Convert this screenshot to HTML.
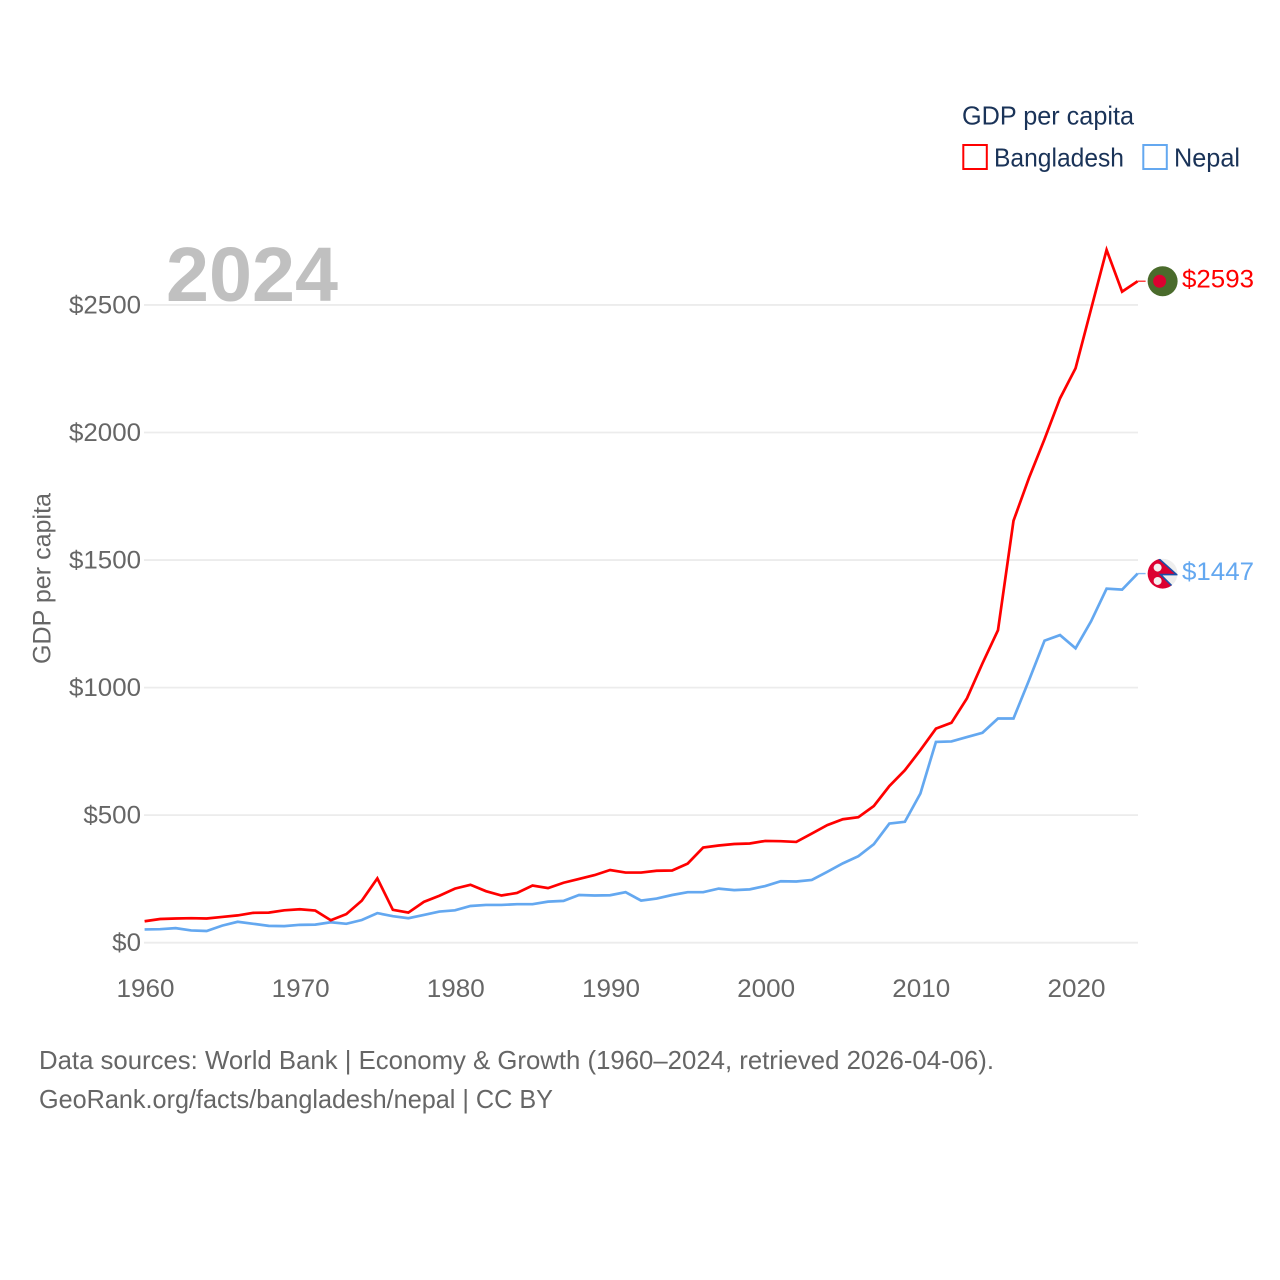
<!DOCTYPE html>
<html lang="en">
<head>
<meta charset="utf-8">
<title>GDP per capita: Bangladesh and Nepal</title>
<style>
html,body{margin:0;padding:0;background:#fff;width:1280px;height:1280px;overflow:hidden}
svg{display:block}
text{font-family:"Liberation Sans",sans-serif}
</style>
</head>
<body>
<svg id="chart" xmlns="http://www.w3.org/2000/svg" width="1280" height="1280" viewBox="0 0 1280 1280">
  <rect width="1280" height="1280" fill="#fff"/>
  <g id="grid"></g>
  <g id="yticks"></g>
  <g id="xticks"></g>
  <text x="166" y="301" font-size="77" font-weight="700" fill="#c0c0c0" textLength="172" lengthAdjust="spacingAndGlyphs">2024</text>
  <text transform="translate(50.5,664) rotate(-90)" font-size="25" fill="#666" textLength="171" lengthAdjust="spacingAndGlyphs">GDP per capita</text>
  <g id="series"></g>
  <g>
    <text x="962" y="124.5" font-size="26" fill="#1a3358" textLength="172" lengthAdjust="spacingAndGlyphs">GDP per capita</text>
    <rect x="963.3" y="145" width="23.5" height="24" fill="none" stroke="#ff0000" stroke-width="2"/>
    <text x="994" y="166.5" font-size="26" fill="#1a3358" textLength="130" lengthAdjust="spacingAndGlyphs">Bangladesh</text>
    <rect x="1143.3" y="145" width="23.5" height="24" fill="none" stroke="#64a8f0" stroke-width="2"/>
    <text x="1174" y="166.5" font-size="26" fill="#1a3358" textLength="66" lengthAdjust="spacingAndGlyphs">Nepal</text>
  </g>
  <defs>
    <clipPath id="flag-clip"><circle cx="0" cy="0" r="15"/></clipPath>
  </defs>
  <g id="flag-bd">
    <circle r="15" fill="#4a6b2c"/>
    <circle cx="-3" r="6.5" fill="#dc0030"/>
  </g>
  <g id="flag-np">
    <g clip-path="url(#flag-clip)">
      <circle r="15" fill="#eeeeee"/>
      <polygon points="-20,-16 -5,-16 14,1 -2,1 11,14 9,20 -20,20" fill="#dc0030" stroke="#1b4fa8" stroke-width="1.6"/>
      <circle cx="-5" cy="-6" r="4" fill="#f4eeee"/>
      <circle cx="-5" cy="7.4" r="4" fill="#f4eeee"/>
    </g>
  </g>
  <g id="endlabels"></g>
  <g>
    <text x="39" y="1069" font-size="26" fill="#666" textLength="955" lengthAdjust="spacingAndGlyphs">Data sources: World Bank | Economy &amp; Growth (1960–2024, retrieved 2026-04-06).</text>
    <text x="39" y="1108" font-size="26" fill="#666" textLength="514" lengthAdjust="spacingAndGlyphs">GeoRank.org/facts/bangladesh/nepal | CC BY</text>
  </g>
</svg>
<script>
const firstYear = 1960;
const bangladeshValues = [84,93,95,96,95,101,107,117,118,127,131,126,88,112,165,252,129,118,160,184,212,227,202,185,195,224,214,235,250,265,285,275,275,282,283,310,373,381,387,389,399,398,395,428,461,484,492,536,614,676,755,839,862,958,1095,1225,1654,1822,1974,2134,2252,2484,2716,2552,2593];
const nepalValues = [52,53,57,48,46,67,82,74,66,65,70,71,80,74,89,116,104,96,109,122,127,144,148,148,151,151,161,164,187,185,186,198,165,173,187,198,198,212,206,209,222,241,240,246,278,311,339,386,467,474,585,787,789,806,823,879,879,1029,1184,1206,1154,1260,1388,1384,1447];
const yTickValues = [0,500,1000,1500,2000,2500];
const yTickLabels = ['$0','$500','$1000','$1500','$2000','$2500'];
const xTickYears = [1960,1970,1980,1990,2000,2010,2020];
const xTickLabels = ['1960','1970','1980','1990','2000','2010','2020'];

const NS = 'http://www.w3.org/2000/svg';
function xScale(year){ return 144.6 + (year - 1960) * 15.516; }
function yScale(v){ return 942.7 - v * 0.2551; }
function make(tag, attrs, parent, text){
  const el = document.createElementNS(NS, tag);
  for (const k in attrs) el.setAttribute(k, attrs[k]);
  if (text !== undefined) el.textContent = text;
  parent.appendChild(el);
  return el;
}

const gridGroup = document.getElementById('grid');
const yGroup = document.getElementById('yticks');
yTickValues.forEach(function(v, i){
  const line = make('line', {x1:144, x2:1138, y1:yScale(v), y2:yScale(v), stroke:'#ececec', 'stroke-width':1.8}, gridGroup);
  
  
  const label = make('text', {x:141, y:yScale(v)+8.3, 'text-anchor':'end', 'font-size':25, fill:'#666', textLength:(yTickLabels[i].length*14.4), lengthAdjust:'spacingAndGlyphs'}, yGroup, yTickLabels[i]);
  
  
});

const xGroup = document.getElementById('xticks');
xTickYears.forEach(function(year, i){
  const label = make('text', {x:xScale(year) + 0.9, y:997, 'text-anchor':'middle', 'font-size':25, fill:'#666', textLength:58, lengthAdjust:'spacingAndGlyphs'}, xGroup, xTickLabels[i]);
  
  
});

const seriesGroup = document.getElementById('series');
const endGroup = document.getElementById('endlabels');
function drawSeries(values, color, flagId){
  const pts = values.map(function(v, i){ return xScale(firstYear + i).toFixed(2) + ',' + yScale(v).toFixed(2); }).join(' ');
  const line = make('polyline', {points:pts, fill:'none', stroke:color, 'stroke-width':2.7, 'stroke-linejoin':'miter'}, seriesGroup);
  
  
  const last = values[values.length - 1];
  const lastX = xScale(firstYear + values.length - 1);
  const ly = yScale(last);
  const conn = make('line', {x1:lastX, x2:lastX + 8, y1:ly, y2:ly, stroke:color, 'stroke-width':1.4, opacity:0.8}, seriesGroup);
  
  
  document.getElementById(flagId).setAttribute('transform', 'translate(' + (lastX + 25) + ',' + ly + ')');
  const label = make('text', {x:1182, y:ly + 6.2, 'font-size':25, fill:color, textLength:72, lengthAdjust:'spacingAndGlyphs'}, endGroup, '$' + last);
  
  
}
drawSeries(nepalValues, '#64a8f0', 'flag-np');
drawSeries(bangladeshValues, '#ff0000', 'flag-bd');
</script>
</body>
</html>
